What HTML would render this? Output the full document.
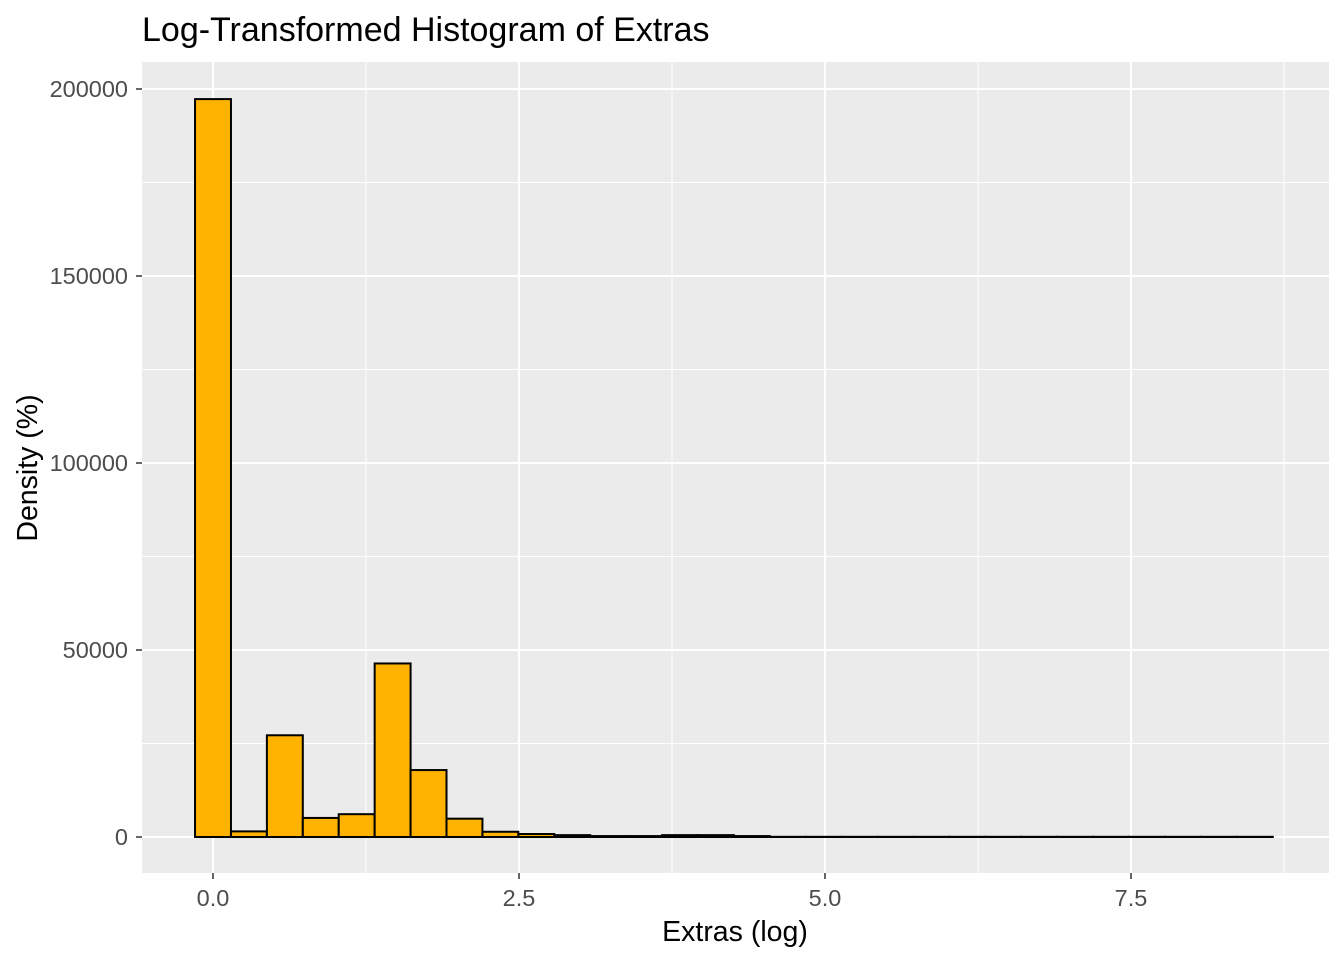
<!DOCTYPE html>
<html><head><meta charset="utf-8"><style>
body{margin:0;background:#fff;font-family:"Liberation Sans",sans-serif}
</style></head><body>
<svg id="c" width="1344" height="960" xmlns="http://www.w3.org/2000/svg">
<text x="142" y="41" font-size="34" fill="#000">Log-Transformed Histogram of Extras</text>
<rect x="142" y="62" width="1187" height="811" fill="#ebebeb"/>
<g id="grid"></g><g id="bars"></g><g id="axes"></g>
<text x="735" y="941" font-size="28.5" text-anchor="middle">Extras (log)</text>
<text transform="translate(37,468) rotate(-90)" font-size="28.5" text-anchor="middle">Density (%)</text>
</svg>
<script>
const binWidth = 0.2935;
const counts = [197300,1500,27200,5100,6100,46400,17900,4900,1400,800,500,250,250,500,500,250,50,50,50,50,50,50,50,50,50,50,50,50,50,50];
const xTicks = [0,2.5,5,7.5];
const xTickLabels = ["0.0","2.5","5.0","7.5"];
const yTicks = [0,50000,100000,150000,200000];
const yTickLabels = ["0","50000","100000","150000","200000"];
const NS="http://www.w3.org/2000/svg";
const xs=v=>213+v*122.4, ys=v=>837-v*748/200000;
function mk(tag,attrs,parent){const e=document.createElementNS(NS,tag);for(const k in attrs)e.setAttribute(k,attrs[k]);parent.appendChild(e);return e;}
const grid=document.getElementById('grid'),bars=document.getElementById('bars'),axes=document.getElementById('axes');
for(let i=0;i<xTicks.length;i++){
 const m=mk('line',{x1:xs(xTicks[i]+1.25),x2:xs(xTicks[i]+1.25),y1:62,y2:873,stroke:'#fff','stroke-width':1},grid);
 const g=mk('line',{x1:xs(xTicks[i]),x2:xs(xTicks[i]),y1:62,y2:873,stroke:'#fff','stroke-width':2},grid);
 
 const t=mk('text',{x:xs(xTicks[i]),y:906,'font-size':23.5,fill:'#4d4d4d','text-anchor':'middle'},axes);t.textContent=xTickLabels[i];
 
}
for(let i=0;i<yTicks.length;i++){
 if(i<yTicks.length-1){const m=mk('line',{x1:142,x2:1329,y1:ys(yTicks[i]+25000),y2:ys(yTicks[i]+25000),stroke:'#fff','stroke-width':1},grid);}
 const g=mk('line',{x1:142,x2:1329,y1:ys(yTicks[i]),y2:ys(yTicks[i]),stroke:'#fff','stroke-width':2},grid);
 
 const t=mk('text',{x:128,y:ys(yTicks[i])+8,'font-size':23.5,fill:'#4d4d4d','text-anchor':'end'},axes);t.textContent=yTickLabels[i];
 
 const k=mk('line',{x1:136,x2:142,y1:ys(yTicks[i]),y2:ys(yTicks[i]),stroke:'#333','stroke-width':1.5},axes);
 
}
xTicks.forEach(v=>{const k=mk('line',{x1:xs(v),x2:xs(v),y1:873,y2:879,stroke:'#333','stroke-width':1.5},axes);});
counts.forEach((c,i)=>{
 const x0=xs((i-0.5)*binWidth),x1=xs((i+0.5)*binWidth);
 const r=mk('rect',{x:x0,y:ys(c),width:x1-x0,height:ys(0)-ys(c),fill:'#ffb300',stroke:'#000','stroke-width':2},bars);
 
});
</script>
</body></html>
